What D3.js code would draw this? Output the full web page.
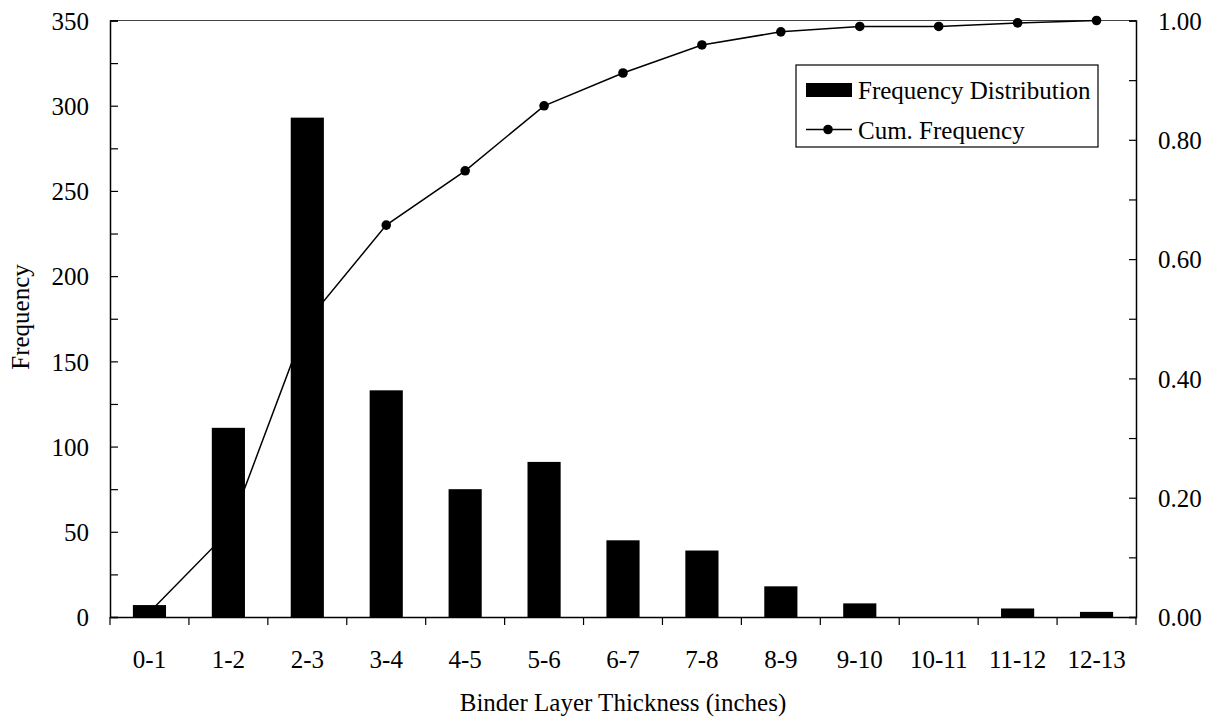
<!DOCTYPE html>
<html><head><meta charset="utf-8">
<script src="https://cdn.jsdelivr.net/npm/d3@7"></script>
<style>body{margin:0;background:#fff}svg{display:block}text{font-family:"Liberation Serif","Times New Roman",serif;fill:#000}</style>
</head><body><svg id="c" width="1217" height="723"></svg>
<script>
const categories = ["0-1","1-2","2-3","3-4","4-5","5-6","6-7","7-8","8-9","9-10","10-11","11-12","12-13"];
const frequency = [7,111,293,133,75,91,45,39,18,8,0,5,3];
const cumFrequency = [0.008,0.143,0.496,0.657,0.748,0.857,0.912,0.959,0.981,0.990,0.990,0.996,1.000];
const leftTicks = [0,50,100,150,200,250,300,350];
const rightTicks = [0,0.2,0.4,0.6,0.8,1.0];

const svg = d3.select("#c");
const m = {l:110, r:1136, t:20.5, b:617};
const FS = 25;

const x = d3.scaleBand().domain(categories).range([m.l,m.r]).paddingInner(0.58).paddingOuter(0.29);
const yL = d3.scaleLinear().domain([0,350]).range([m.b,m.t]);
const yR = d3.scaleLinear().domain([0,1]).range([m.b,m.t]);

// bars
svg.append("g").selectAll("rect").data(categories).join("rect")
  .attr("x", d=>x(d)).attr("width", x.bandwidth())
  .attr("y", (d,i)=>yL(frequency[i])).attr("height",(d,i)=>m.b-yL(frequency[i]))
  .attr("fill","#000");

// top border
svg.append("line").attr("x1",m.l).attr("x2",m.r).attr("y1",m.t).attr("y2",m.t).attr("stroke","#444").attr("stroke-width",1.2);

// left axis
const gL = svg.append("g").attr("transform",`translate(${m.l},0)`)
  .call(d3.axisLeft(yL).tickValues(d3.range(0,351,25)).tickSize(-8).tickFormat(d=>leftTicks.includes(d)?d:""));
gL.selectAll("text").attr("x",-21).style("font-size",FS+"px").attr("dy","0.35em");
// right axis
const gR = svg.append("g").attr("transform",`translate(${m.r},0)`)
  .call(d3.axisRight(yR).tickValues(d3.range(0,11).map(i=>i/10)).tickSize(-7)
    .tickFormat(d=>rightTicks.some(t=>Math.abs(t-d)<1e-9)?d3.format(".2f")(d):""));
gR.selectAll("text").attr("x",22).style("font-size",FS+"px").attr("dy","0.35em");
// bottom axis
const gB = svg.append("g").attr("transform",`translate(0,${m.b})`)
  .call(d3.axisBottom(x).tickSize(0));
gB.selectAll("text").style("font-size",FS+"px").attr("dy","0.35em").attr("y",42);
gB.selectAll("line.sep").data(d3.range(categories.length+1)).join("line").attr("class","sep")
  .attr("x1",i=>m.l+i*x.step()).attr("x2",i=>m.l+i*x.step()).attr("y1",0).attr("y2",8).attr("stroke","#000").attr("stroke-width",1.2);
[gL,gR,gB].forEach(g=>{g.select(".domain").attr("stroke","#000").attr("stroke-width",1.5);g.selectAll(".tick line").attr("stroke","#000").attr("stroke-width",1.2);});
svg.selectAll(".tick text").style("font-family","'Liberation Serif',serif");

// cumulative line
const cx = d=>x(d)+x.bandwidth()/2;
svg.append("path").datum(categories)
  .attr("d", d3.line().x(cx).y((d,i)=>yR(cumFrequency[i])))
  .attr("fill","none").attr("stroke","#000").attr("stroke-width",1.5);
svg.append("g").selectAll("circle").data(categories).join("circle")
  .attr("cx",cx).attr("cy",(d,i)=>yR(cumFrequency[i])).attr("r",4.8).attr("fill","#000");

// titles
svg.append("text").attr("x",623).attr("y",711).attr("text-anchor","middle").style("font-size",FS+"px").text("Binder Layer Thickness (inches)");
svg.append("text").attr("transform","translate(29,317) rotate(-90)").attr("text-anchor","middle").style("font-size",FS+"px").text("Frequency");

// legend
const lg = svg.append("g");
lg.append("rect").attr("x",796).attr("y",65).attr("width",302).attr("height",82).attr("fill","#fff").attr("stroke","#000").attr("stroke-width",1.2);
lg.append("rect").attr("x",806).attr("y",83).attr("width",46).attr("height",14).attr("fill","#000");
lg.append("text").attr("x",858).attr("y",90).attr("dy","0.35em").style("font-size",FS+"px").text("Frequency Distribution");
lg.append("line").attr("x1",806).attr("x2",852).attr("y1",129.5).attr("y2",129.5).attr("stroke","#000").attr("stroke-width",1.5);
lg.append("circle").attr("cx",828).attr("cy",129.5).attr("r",4.8).attr("fill","#000");
lg.append("text").attr("x",858).attr("y",130).attr("dy","0.35em").style("font-size",FS+"px").text("Cum. Frequency");
</script></body></html>
